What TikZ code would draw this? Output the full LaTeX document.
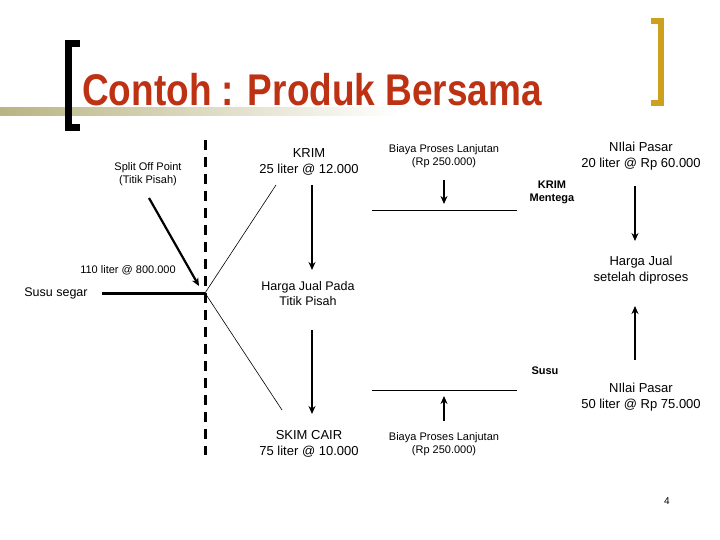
\documentclass[tikz,border=0pt]{standalone}
\usepackage{fontspec}
\setmainfont{Liberation Sans}
\usetikzlibrary{arrows.meta}
\definecolor{ttl}{RGB}{190,50,20}
\definecolor{gold}{RGB}{205,160,30}
\definecolor{olive}{RGB}{185,180,130}
\begin{document}
\begin{tikzpicture}[x=1pt,y=-1pt,
  lbl/.style={align=center,font=\fontsize{12.5}{15}\selectfont,inner sep=1pt},
  sml/.style={align=center,font=\fontsize{11}{13}\selectfont,inner sep=1pt},
  arr/.style={line width=2pt,-{Stealth[length=8pt,width=7pt]}},
  thin/.style={line width=0.6pt}]
\useasboundingbox (0,0) rectangle (720,540);
\shade[left color=olive,right color=white] (0,108) rectangle (400,116);
\draw[line width=7pt] (80,44) -- (68,44) -- (68,128) -- (80,128);
\draw[gold,line width=6pt] (651,21) -- (661,21) -- (661,103) -- (651,103);
\node[anchor=base west,text=ttl,font=\bfseries\fontsize{37}{40}\selectfont,inner sep=0pt,yscale=1.2] (title) at (82,106) {Contoh : Produk Bersama};
\draw[line width=3pt,dash pattern=on 10pt off 7pt] (205,140) -- (205,455);
\coordinate (sp) at (205,293);
\node[sml] (split) at (148,174) {Split Off Point\\(Titik Pisah)};
\node[sml] (liter) at (128,270) {110 liter @ 800.000};
\node[lbl] (segar) at (56,293) {Susu segar};
\coordinate (segarE) at (102,293);
\draw[line width=3pt] (segarE) -- (sp);
\coordinate (aS) at (149,198);
\draw[line width=2.2pt,-{Stealth[length=8pt,width=7pt]}] (aS) -- (199,286);
\node[lbl,font=\fontsize{13}{16}\selectfont] (krim) at (309,162) {KRIM\\25 liter @ 12.000};
\node[lbl,font=\fontsize{13}{16}\selectfont] (skim) at (309,444) {SKIM CAIR\\75 liter @ 10.000};
\node[lbl] (hjp) at (308,294) {Harga Jual Pada\\Titik Pisah};
\coordinate (k1) at (276,185); \coordinate (s1) at (282,410);
\draw[thin] (sp) -- (k1); \draw[thin] (sp) -- (s1);
\draw[arr] (312,185) -- (312,270);
\draw[arr] (312,330) -- (312,414);
\node[sml] (b1) at (444,156) {Biaya Proses Lanjutan\\(Rp 250.000)};
\node[sml] (b2) at (444,444) {Biaya Proses Lanjutan\\(Rp 250.000)};
\draw[thin] (372,210) -- (517,210);
\draw[thin] (372,390) -- (517,390);
\draw[arr] (444,180) -- (444,204);
\draw[arr] (444,421) -- (444,396);
\node[sml,font=\bfseries\fontsize{11}{13}\selectfont] (km) at (552,192) {KRIM\\Mentega};
\node[sml,font=\bfseries\fontsize{11}{13}\selectfont] (susu) at (545,371) {Susu};
\node[lbl,font=\fontsize{13}{16}\selectfont] (np1) at (641,156) {NIlai Pasar\\20 liter @ Rp 60.000};
\node[lbl,font=\fontsize{13}{16}\selectfont] (hj) at (641,270) {Harga Jual\\setelah diproses};
\node[lbl,font=\fontsize{13}{16}\selectfont] (np2) at (641,397) {NIlai Pasar\\50 liter @ Rp 75.000};
\draw[arr] (635,186) -- (635,241);
\draw[arr] (635,360) -- (635,306);
\node[font=\fontsize{10}{12}\selectfont] (pg) at (667,501) {4};
\end{tikzpicture}
\end{document}
